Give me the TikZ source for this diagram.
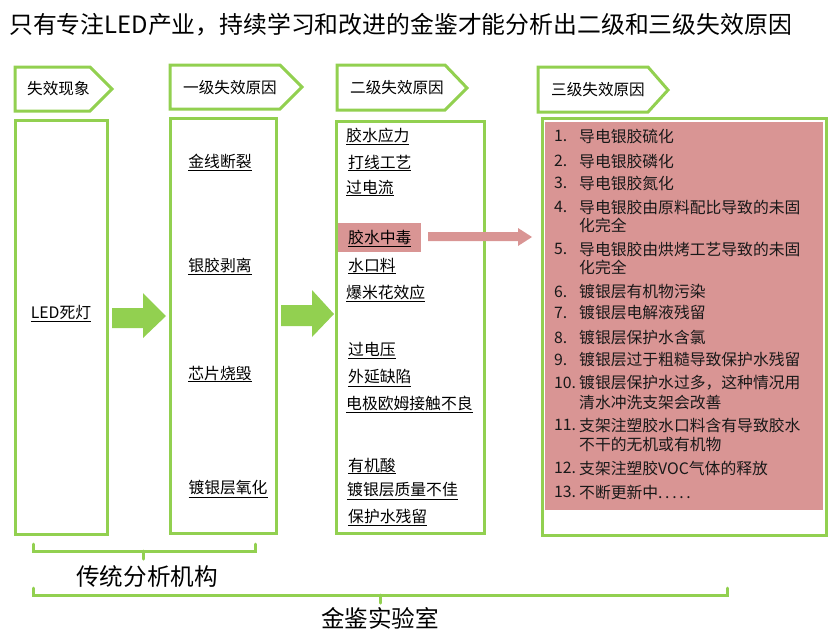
\documentclass[tikz,border=0pt]{standalone}
\usepackage{fontspec}
\setmainfont{Noto Sans CJK SC}
\definecolor{lgreen}{HTML}{92D050}
\definecolor{lpink}{HTML}{D99594}
\begin{document}
\begin{tikzpicture}[x=1pt,y=-1pt,
  gbox/.style={draw=lgreen, line width=3pt},
  hdr/.style={draw=lgreen, line width=3pt, fill=white, line join=miter},
  htxt/.style={anchor=west, inner sep=0pt, font=\fontsize{15.6}{18}\selectfont},
  ltxt/.style={anchor=west, inner sep=0pt, font=\fontsize{15.8}{18}\selectfont},
  ctxt/.style={anchor=center, inner sep=0pt, font=\fontsize{15.8}{18}\selectfont},
  lst/.style={anchor=west, inner sep=0pt, font=\fontsize{15.8}{18}\selectfont, text=black!90},
  garrow/.style={fill=lgreen, draw=none},
  brk/.style={draw=lgreen, line width=3pt, line cap=round},
  big/.style={inner sep=0pt, font=\fontsize{23.6}{28}\selectfont}
]
\useasboundingbox (0,0) rectangle (834,640);

% title
\node[big, anchor=west, font=\fontsize{23.85}{28}\selectfont] (title) at (9,25) {只有专注LED产业，持续学习和改进的金鉴才能分析出二级和三级失效原因};

% header pentagons
\draw[hdr] (15,67) -- (90,67) -- (112,89) -- (90,111) -- (15,111) -- cycle;
\node[htxt] (h1) at (27,89) {失效现象};
\draw[hdr] (170,65) -- (280,65) -- (302,87) -- (280,109) -- (170,109) -- cycle;
\node[htxt] (h2) at (183,88) {一级失效原因};
\draw[hdr] (337,65) -- (445,65) -- (467,88) -- (445,110) -- (337,110) -- cycle;
\node[htxt] (h3) at (350,88) {二级失效原因};
\draw[hdr] (538,67) -- (648,67) -- (668,90) -- (648,112) -- (538,112) -- cycle;
\node[htxt] (h4) at (551,90) {三级失效原因};

% main boxes
\draw[gbox] (15,120) rectangle (107,534);
\draw[gbox] (170,118) rectangle (276,533);
\draw[gbox] (336,121) rectangle (484,533);
\draw[gbox] (542,118) rectangle (826,535);
\fill[lpink] (545,122) rectangle (823,510);

% box 1
\node[ctxt] (led) at (61,314) {\underline{LED死灯}};

% box 2
\node[ctxt] (b21) at (220,162) {\underline{金线断裂}};
\node[ctxt] (b22) at (220,266) {\underline{银胶剥离}};
\node[ctxt] (b23) at (220,374) {\underline{芯片烧毁}};
\node[ctxt] (b24) at (228,489) {\underline{镀银层氧化}};

% box 3
\fill[lpink] (338,223) rectangle (421,252);
\node[ltxt] (c1) at (346,136) {\underline{胶水应力}};
\node[ltxt] (c2) at (348,163) {\underline{打线工艺}};
\node[ltxt] (c3) at (346,188) {\underline{过电流}};
\node[ltxt] (c4) at (348,238) {\underline{胶水中毒}};
\node[ltxt] (c5) at (348,266) {\underline{水口料}};
\node[ltxt] (c6) at (346,293) {\underline{爆米花效应}};
\node[ltxt] (c7) at (348,351) {\underline{过电压}};
\node[ltxt] (c8) at (348,378) {\underline{外延缺陷}};
\node[ltxt] (c9) at (346,404) {\underline{电极欧姆接触不良}};
\node[ltxt] (c10) at (348,466) {\underline{有机酸}};
\node[ltxt] (c11) at (347,491) {\underline{镀银层质量不佳}};
\node[ltxt] (c12) at (348,517) {\underline{保护水残留}};

% box 4 list
\foreach \n/\yy in {1/136,2/161,3/183,4/207,5/249,6/292,7/313,8/338,9/360,10/383,11/425,12/468,13/492}{
  \node[lst] (n\n) at (554,\yy) {\n.};
}
\node[lst] (t1) at (579,136) {导电银胶硫化};
\node[lst] (t2) at (579,161) {导电银胶磷化};
\node[lst] (t3) at (579,183) {导电银胶氮化};
\node[lst] (t4a) at (579,207) {导电银胶由原料配比导致的未固};
\node[lst] (t4b) at (579,225) {化完全};
\node[lst] (t5a) at (579,249) {导电银胶由烘烤工艺导致的未固};
\node[lst] (t5b) at (579,267) {化完全};
\node[lst] (t6) at (579,292) {镀银层有机物污染};
\node[lst] (t7) at (579,313) {镀银层电解液残留};
\node[lst] (t8) at (579,338) {镀银层保护水含氯};
\node[lst] (t9) at (579,360) {镀银层过于粗糙导致保护水残留};
\node[lst] (t10a) at (579,383) {镀银层保护水过多，这种情况用};
\node[lst] (t10b) at (579,403) {清水冲洗支架会改善};
\node[lst] (t11a) at (579,425) {支架注塑胶水口料含有导致胶水};
\node[lst] (t11b) at (579,444) {不干的无机或有机物};
\node[lst] (t12) at (579,468) {支架注塑胶VOC气体的释放};
\node[lst] (t13) at (579,492) {不断更新中.\,.\,.\,.\,.};

% green block arrows
\fill[garrow] (112,308) -- (143,308) -- (143,293) -- (166,316) -- (143,338) -- (143,328) -- (112,328) -- cycle;
\fill[garrow] (281,305) -- (312,305) -- (312,290) -- (334,314) -- (312,337) -- (312,326) -- (281,326) -- cycle;

% pink arrow
\fill[lpink] (428,232) -- (518,232) -- (518,228) -- (532,237) -- (518,246) -- (518,241) -- (428,241) -- cycle;

% brackets
\draw[brk] (33,544) -- (33,551) -- (255,551) -- (255,544);
\draw[brk] (143,551) -- (143,559);
\node[big] (trad) at (147,577) {传统分析机构};
\draw[brk] (33,588) -- (33,595) -- (727,595) -- (727,588);
\draw[brk] (380,595) -- (380,603);
\node[big] (lab) at (380,618) {金鉴实验室};
\end{tikzpicture}
\end{document}
